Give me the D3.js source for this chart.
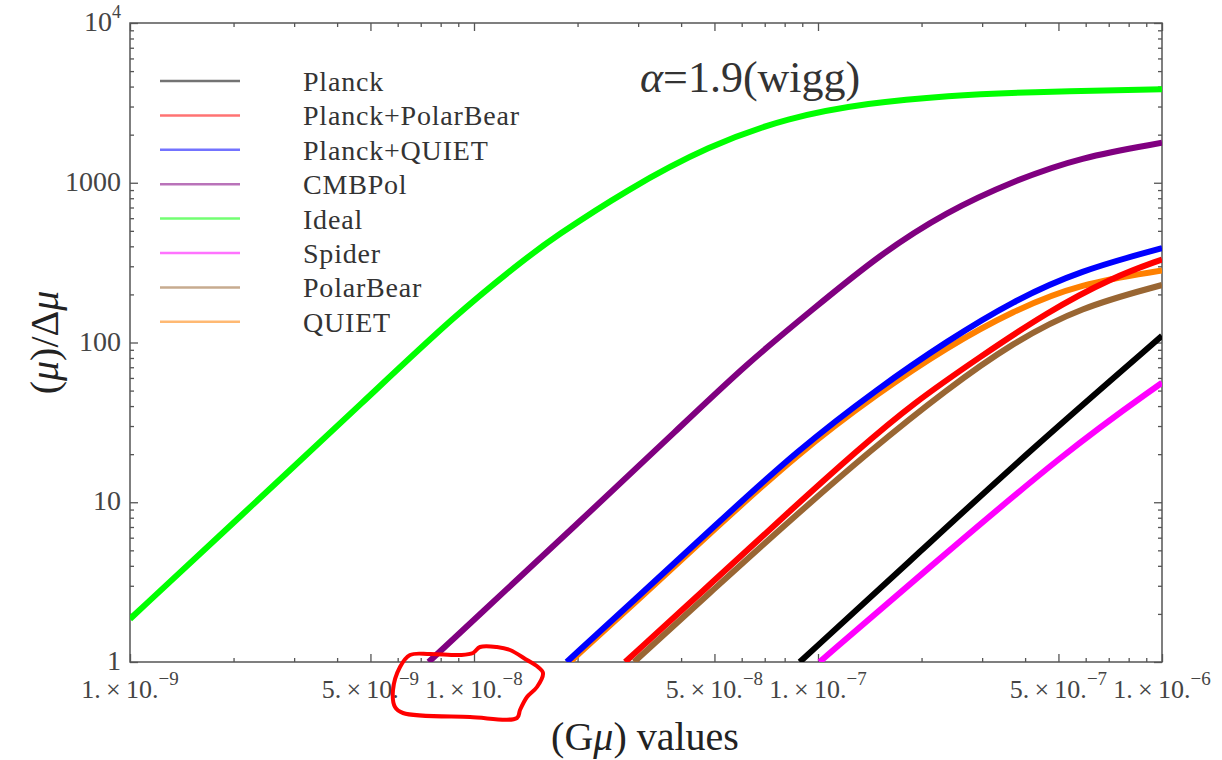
<!DOCTYPE html>
<html>
<head>
<meta charset="utf-8">
<script src="https://cdn.jsdelivr.net/npm/d3@7"></script>
<style>
  html, body { margin: 0; padding: 0; background: #fff; }
  svg { display: block; }
  text { font-family: "Liberation Serif", "Times New Roman", "DejaVu Serif", serif; }
</style>
</head>
<body>
<svg id="chart" width="1222" height="760"></svg>
<script>
// ---- data: Gμ values and the ratio (μ)/Δμ for each experiment ----
const seriesNames = ["Planck", "Planck+PolarBear", "Planck+QUIET", "CMBPol", "Ideal", "Spider", "PolarBear", "QUIET"];
const seriesColors = ["#000000", "#ff0000", "#0000ff", "#800080", "#00ff00", "#ff00ff", "#996633", "#ff8000"];

const planckX = [8.85e-8, 2e-7, 4.13e-7, 1e-6];
const planckY = [1, 5.0, 21.1, 110];

const planckPolarBearX = [2.75e-8, 5e-8, 8.32e-8, 1.3e-7, 1.89e-7, 2.96e-7, 4.63e-7, 7.21e-7, 1e-6];
const planckPolarBearY = [1, 3.24, 8.91, 21.1, 41.7, 81.3, 155, 257, 331];

const planckQuietX = [1.86e-8, 3e-8, 5e-8, 8.69e-8, 1.51e-7, 2.37e-7, 3.69e-7, 5.78e-7, 1e-6];
const planckQuietY = [1, 2.57, 7.08, 21.1, 52.5, 102, 182, 282, 389];

const cmbPolX = [7.38e-9, 1e-8, 2e-8, 3.97e-8, 6.22e-8, 9.68e-8, 1.51e-7, 2.37e-7, 3.69e-7, 5.78e-7, 1e-6];
const cmbPolY = [1, 1.84, 7.35, 29.5, 74, 162, 355, 661, 1023, 1445, 1778];

const idealX = [1e-9, 2e-9, 5e-9, 8.8e-9, 1.4e-8, 1.7e-8, 2.8e-8, 4.8e-8, 8.2e-8, 1.4e-7, 2.4e-7, 4e-7, 1e-6];
const idealY = [1.86, 7.45, 46.8, 148, 331, 452, 912, 1700, 2570, 3160, 3516, 3698, 3846];

const spiderX = [1.01e-7, 2e-7, 5.28e-7, 1e-6];
const spiderY = [1, 3.55, 21.1, 56];

const polarBearX = [2.92e-8, 5e-8, 8.32e-8, 1.42e-7, 2.37e-7, 3.69e-7, 5.78e-7, 1e-6];
const polarBearY = [1, 2.88, 7.76, 21.1, 51, 100, 166, 229];

const quietX = [1.9e-8, 3e-8, 5e-8, 8.69e-8, 1.51e-7, 2.37e-7, 3.69e-7, 5.78e-7, 1e-6];
const quietY = [1, 2.45, 6.76, 20, 49, 93.3, 158, 234, 282];

// x tick labels: mantissa and exponent
const xMajorTicks = [1e-9, 5e-9, 1e-8, 5e-8, 1e-7, 5e-7, 1e-6];
const xTickMantissa = ["1.", "5.", "1.", "5.", "1.", "5.", "1."];
const xTickExponent = ["\u22129", "\u22129", "\u22128", "\u22128", "\u22127", "\u22127", "\u22126"];
const yMajorTicks = [1, 10, 100, 1000, 10000];
const yTickLabels = ["1", "10", "100", "1000", "10^4"];

// ---- layout ----
const svg = d3.select("#chart");
const plotL = 130, plotR = 1162, plotT = 23, plotB = 662;

const x = d3.scaleLog().domain([1e-9, 1e-6]).range([plotL, plotR]);
const y = d3.scaleLog().domain([1, 1e4]).range([plotB, plotT]);

const frameColor = "#555";
const labelColor = "#444";

// minor tick values
const xMinor = [];
for (let e = -9; e < -6; e++) for (let m = 1; m < 10; m++) xMinor.push(m * Math.pow(10, e));
xMinor.push(1e-6);
const yMinor = [];
for (let e = 0; e < 4; e++) for (let m = 1; m < 10; m++) yMinor.push(m * Math.pow(10, e));
yMinor.push(1e4);
const isMajorX = v => xMajorTicks.some(t => Math.abs(t - v) / t < 1e-6);
const isMajorY = v => yMajorTicks.some(t => Math.abs(t - v) / t < 1e-6);

function styleAxis(g) {
  g.select(".domain").remove();
  g.selectAll("line").attr("stroke", frameColor).attr("stroke-width", 1.3);
  g.selectAll("text").remove();
}

// ticks pointing into the frame on all four sides
[[d3.axisBottom, `translate(0,${plotB})`], [d3.axisTop, `translate(0,${plotT})`]].forEach(([ax, tr]) => {
  styleAxis(svg.append("g").attr("transform", tr)
    .call(ax(x).tickValues(xMinor.filter(v => !isMajorX(v))).tickSize(-4).tickFormat("")));
  styleAxis(svg.append("g").attr("transform", tr)
    .call(ax(x).tickValues(xMajorTicks).tickSize(-8).tickFormat("")));
});
[[d3.axisLeft, `translate(${plotL},0)`], [d3.axisRight, `translate(${plotR},0)`]].forEach(([ax, tr]) => {
  styleAxis(svg.append("g").attr("transform", tr)
    .call(ax(y).tickValues(yMinor.filter(v => !isMajorY(v))).tickSize(-4).tickFormat("")));
  styleAxis(svg.append("g").attr("transform", tr)
    .call(ax(y).tickValues(yMajorTicks).tickSize(-8).tickFormat("")));
});

// frame
svg.append("rect")
  .attr("x", plotL).attr("y", plotT)
  .attr("width", plotR - plotL).attr("height", plotB - plotT)
  .attr("fill", "none").attr("stroke", frameColor).attr("stroke-width", 1.5);

// y tick labels
yMajorTicks.forEach((v, i) => {
  const t = svg.append("text")
    .attr("x", plotL - 9).attr("y", y(v) + 8)
    .attr("text-anchor", "end")
    .attr("font-size", 28).attr("fill", labelColor);
  const lab = yTickLabels[i];
  if (lab.includes("^")) {
    const [b, p] = lab.split("^");
    t.append("tspan").text(b);
    t.append("tspan").attr("dy", -13).attr("font-size", 18).text(p);
  } else {
    t.text(lab);
  }
});

// x tick labels: "1.×10.⁻⁹"
xMajorTicks.forEach((v, i) => {
  const t = svg.append("text")
    .attr("x", x(v)).attr("y", plotB + 36)
    .attr("text-anchor", "middle")
    .attr("font-size", 26).attr("fill", labelColor);
  t.append("tspan").text(xTickMantissa[i] + "\u2009\u00d7\u200910.");
  t.append("tspan").attr("dy", -13).attr("font-size", 19).text(xTickExponent[i]);
});

// axis titles
const xTitle = svg.append("text")
  .attr("x", 645).attr("y", 750)
  .attr("text-anchor", "middle").attr("font-size", 40).attr("fill", "#222");
xTitle.append("tspan").text("(G");
xTitle.append("tspan").attr("font-style", "italic").text("\u03bc");
xTitle.append("tspan").text(") values");

const yTitle = svg.append("text")
  .attr("transform", `translate(58,${(plotT + plotB) / 2}) rotate(-90)`)
  .attr("text-anchor", "middle").attr("font-size", 40).attr("fill", "#222");
yTitle.append("tspan").text("(");
yTitle.append("tspan").attr("font-style", "italic").text("\u03bc");
yTitle.append("tspan").text(")/\u0394");
yTitle.append("tspan").attr("font-style", "italic").text("\u03bc");

// ---- curves ----
const clip = svg.append("clipPath").attr("id", "plotclip");
clip.append("rect").attr("x", plotL).attr("y", plotT - 3).attr("width", plotR - plotL).attr("height", plotB - plotT + 3);

const seriesData = [
  { name: "QUIET", xs: quietX, ys: quietY },
  { name: "PolarBear", xs: polarBearX, ys: polarBearY },
  { name: "Planck", xs: planckX, ys: planckY },
  { name: "Spider", xs: spiderX, ys: spiderY },
  { name: "Planck+PolarBear", xs: planckPolarBearX, ys: planckPolarBearY },
  { name: "Planck+QUIET", xs: planckQuietX, ys: planckQuietY },
  { name: "CMBPol", xs: cmbPolX, ys: cmbPolY },
  { name: "Ideal", xs: idealX, ys: idealY }
];

// smooth B-spline through the sampled values (log–log space)
const line = d3.line()
  .x(d => x(d[0]))
  .y(d => y(d[1]))
  .curve(d3.curveBasis);

const curves = svg.append("g").attr("clip-path", "url(#plotclip)");
seriesData.forEach(s => {
  const pts = s.xs.map((v, i) => [v, s.ys[i]]);
  curves.append("path")
    .datum(pts)
    .attr("d", line)
    .attr("fill", "none")
    .attr("stroke", seriesColors[seriesNames.indexOf(s.name)])
    .attr("stroke-width", 6)
    .attr("stroke-linecap", "butt")
    .attr("stroke-linejoin", "round");
});

// ---- legend ----
const legend = svg.append("g");
seriesNames.forEach((name, i) => {
  const ly = 81 + i * 34.4;
  legend.append("line")
    .attr("x1", 160).attr("x2", 240).attr("y1", ly).attr("y2", ly)
    .attr("stroke", seriesColors[i]).attr("stroke-width", 2.5).attr("stroke-opacity", 0.55);
  legend.append("text")
    .attr("x", 303).attr("y", ly + 10)
    .attr("font-size", 28).attr("letter-spacing", 0.8).attr("fill", "#333")
    .text(name);
});

// ---- parameter label ----
const param = svg.append("text")
  .attr("x", 640).attr("y", 92)
  .attr("font-size", 44).attr("fill", "#333");
param.append("tspan").attr("font-style", "italic").text("\u03b1");
param.append("tspan").text("=1.9(wigg)");

// ---- hand-drawn red loop around the 10⁻⁸ tick label ----
const loopOffsets = [
  [-64, -7], [-74, 5], [-81, 28], [-79, 45], [-71, 51], [-4, 55], [43, 56], [46, 48],
  [53, 35], [63, 25], [69, 11], [64, 5], [53, -2], [36, -12], [23, -15], [6, -15],
  [-1, -9], [-14, -7], [-44, -8]
];
const loopAnchor = [x(1e-8), plotB];
svg.append("path")
  .datum(loopOffsets.map(p => [loopAnchor[0] + p[0], loopAnchor[1] + p[1]]))
  .attr("d", d3.line().curve(d3.curveCatmullRomClosed.alpha(0.5)))
  .attr("fill", "none")
  .attr("stroke", "#ff0000")
  .attr("stroke-width", 4)
  .attr("stroke-linejoin", "round");
</script>
</body>
</html>
